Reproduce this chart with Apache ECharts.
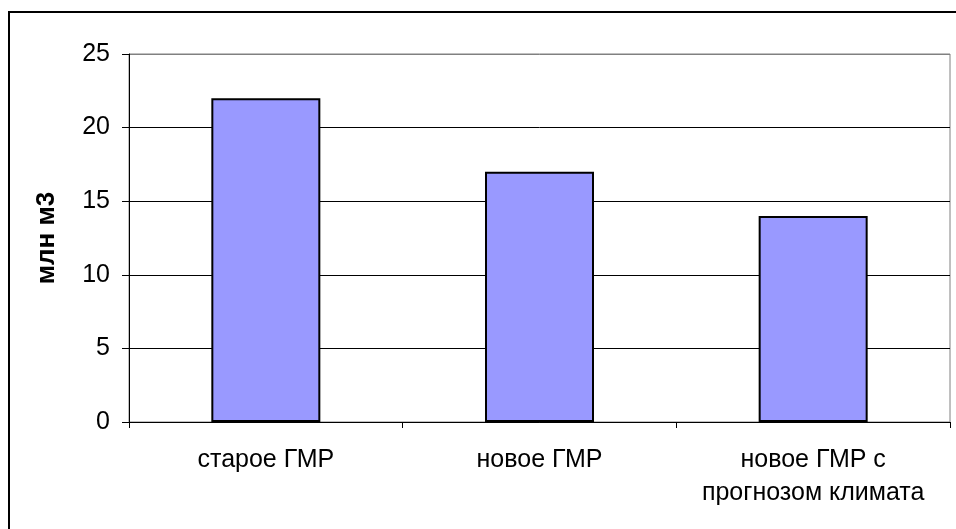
<!DOCTYPE html>
<html lang="ru">
<head>
    <meta charset="UTF-8">
    <title>млн м3</title>
    <script src="https://cdn.jsdelivr.net/npm/echarts@6/dist/echarts.min.js"></script>
    <style>
        html, body { margin: 0; padding: 0; background: #fff; }
        #main { width: 956px; height: 529px; }
    </style>
</head>
<body>
<div id="main"></div>
<script>
    // данные с картинки
    var categories = ['старое ГМР', 'новое ГМР', 'новое ГМР с\nпрогнозом климата'];
    var values = [22, 17, 14];
    var yTicks = [0, 5, 10, 15, 20, 25];

    var myChart = echarts.init(document.getElementById('main'));
    var option = {
        animation: false,
        backgroundColor: '#fff',
        textStyle: { fontFamily: 'Liberation Sans, Arial, sans-serif' },
        graphic: [{
            // рамка всей диаграммы (справа и снизу обрезана)
            type: 'rect',
            shape: { x: 9, y: 12, width: 1000, height: 600 },
            style: { fill: 'none', stroke: '#000', lineWidth: 2 },
            z: 100
        }],
        grid: {
            left: 129, top: 54, right: 6, bottom: 107,
            show: true, borderColor: '#808080', borderWidth: 1
        },
        xAxis: {
            type: 'category',
            data: categories,
            axisLine: { lineStyle: { color: '#000', width: 1 } },
            axisTick: { show: true, length: 6, lineStyle: { color: '#000' } },
            axisLabel: {
                color: '#000', fontSize: 25, margin: 22, lineHeight: 33,
                interval: 0
            }
        },
        yAxis: {
            type: 'value',
            min: yTicks[0],
            max: yTicks[yTicks.length - 1],
            interval: 5,
            name: 'млн м3',
            nameLocation: 'middle',
            nameGap: 69,
            nameRotate: 90,
            nameTextStyle: { color: '#000', fontSize: 26, fontWeight: 'bold' },
            axisLine: { show: true, lineStyle: { color: '#000', width: 1 } },
            axisTick: { show: true, length: 7, lineStyle: { color: '#000' } },
            axisLabel: { color: '#000', fontSize: 25, margin: 19 },
            splitLine: {
                show: true,
                lineStyle: { color: ['#000', '#000', '#000', '#000', '#000', '#808080'], width: 1 }
            }
        },
        series: [{
            type: 'bar',
            data: values,
            barWidth: 109,
            itemStyle: { color: '#9999FF', borderColor: '#000', borderWidth: 2 }
        }]
    };
    myChart.setOption(option);
</script>
</body>
</html>
